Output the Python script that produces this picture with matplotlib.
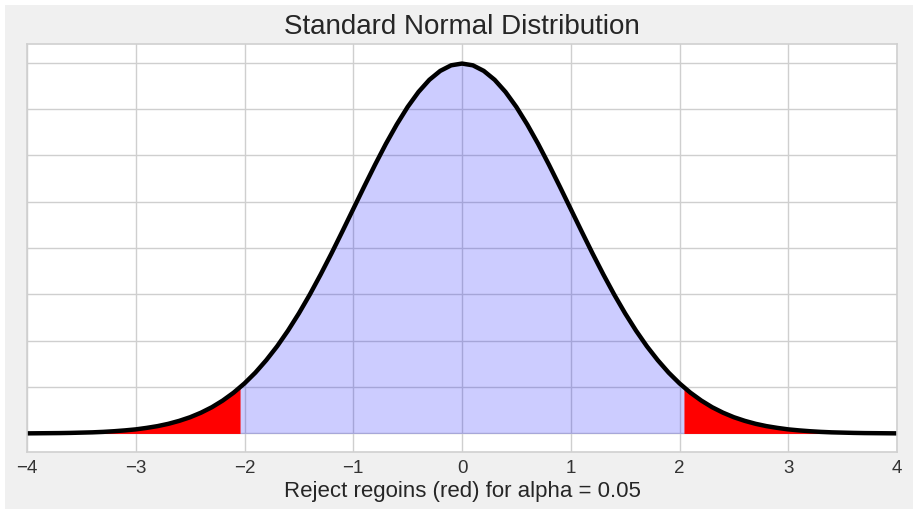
import matplotlib.pyplot as plt

plt.rcParams['font.family'] = ['Liberation Sans', 'DejaVu Sans']

# fill grid: z values (50 evenly spaced points from -4 to 4) and density
z = [-4.000, -3.837, -3.673, -3.510, -3.347, -3.184, -3.020, -2.857, -2.694, -2.531,
     -2.367, -2.204, -2.041, -1.878, -1.714, -1.551, -1.388, -1.224, -1.061, -0.898,
     -0.735, -0.571, -0.408, -0.245, -0.082, 0.082, 0.245, 0.408, 0.571, 0.735,
     0.898, 1.061, 1.224, 1.388, 1.551, 1.714, 1.878, 2.041, 2.204, 2.367,
     2.531, 2.694, 2.857, 3.020, 3.184, 3.347, 3.510, 3.673, 3.837, 4.000]
density = [0.0001, 0.0003, 0.0005, 0.0008, 0.0015, 0.0025, 0.0042, 0.0067, 0.0106, 0.0162,
           0.0242, 0.0352, 0.0497, 0.0684, 0.0918, 0.1198, 0.1523, 0.1887, 0.2272, 0.2666,
           0.3046, 0.3389, 0.3671, 0.3872, 0.3976, 0.3976, 0.3872, 0.3671, 0.3389, 0.3046,
           0.2666, 0.2272, 0.1887, 0.1523, 0.1198, 0.0918, 0.0684, 0.0497, 0.0352, 0.0242,
           0.0162, 0.0106, 0.0067, 0.0042, 0.0025, 0.0015, 0.0008, 0.0005, 0.0003, 0.0001]

# curve: denser readings, every 0.1 from -4 to 4
curve_z = [-4.0, -3.9, -3.8, -3.7, -3.6, -3.5, -3.4, -3.3, -3.2, -3.1,
           -3.0, -2.9, -2.8, -2.7, -2.6, -2.5, -2.4, -2.3, -2.2, -2.1,
           -2.0, -1.9, -1.8, -1.7, -1.6, -1.5, -1.4, -1.3, -1.2, -1.1,
           -1.0, -0.9, -0.8, -0.7, -0.6, -0.5, -0.4, -0.3, -0.2, -0.1,
           0.0, 0.1, 0.2, 0.3, 0.4, 0.5, 0.6, 0.7, 0.8, 0.9,
           1.0, 1.1, 1.2, 1.3, 1.4, 1.5, 1.6, 1.7, 1.8, 1.9,
           2.0, 2.1, 2.2, 2.3, 2.4, 2.5, 2.6, 2.7, 2.8, 2.9,
           3.0, 3.1, 3.2, 3.3, 3.4, 3.5, 3.6, 3.7, 3.8, 3.9, 4.0]
curve_density = [0.0001, 0.0002, 0.0003, 0.0004, 0.0006, 0.0009, 0.0012, 0.0017, 0.0024, 0.0033,
                 0.0044, 0.0060, 0.0079, 0.0104, 0.0136, 0.0175, 0.0224, 0.0283, 0.0355, 0.0440,
                 0.0540, 0.0656, 0.0790, 0.0940, 0.1109, 0.1295, 0.1497, 0.1714, 0.1942, 0.2179,
                 0.2420, 0.2661, 0.2897, 0.3123, 0.3332, 0.3521, 0.3683, 0.3814, 0.3910, 0.3970,
                 0.3989, 0.3970, 0.3910, 0.3814, 0.3683, 0.3521, 0.3332, 0.3123, 0.2897, 0.2661,
                 0.2420, 0.2179, 0.1942, 0.1714, 0.1497, 0.1295, 0.1109, 0.0940, 0.0790, 0.0656,
                 0.0540, 0.0440, 0.0355, 0.0283, 0.0224, 0.0175, 0.0136, 0.0104, 0.0079, 0.0060,
                 0.0044, 0.0033, 0.0024, 0.0017, 0.0012, 0.0009, 0.0006, 0.0004, 0.0003, 0.0002, 0.0001]

critical = 1.96
xticks = [-4, -3, -2, -1, 0, 1, 2, 3, 4]

fig = plt.figure(figsize=(9.13, 5.09), dpi=100, facecolor='white')
# grey panel behind everything, leaving a thin white edge top and left
bg = fig.add_axes([5 / 913, 0, 1 - 5 / 913, 1 - 5 / 509], zorder=-10)
bg.set_axis_off()
bg.add_artist(plt.Rectangle((0, 0), 1, 1, transform=bg.transAxes, color='#f0f0f0'))

ax = fig.add_axes([27 / 913, 1 - 452 / 509, 870 / 913, 408 / 509])
ax.set_facecolor('white')

ax.fill_between(z, density, color='blue', alpha=0.2, linewidth=0)
left = [zi <= -critical for zi in z]
right = [zi >= critical for zi in z]
ax.fill_between(z, density, where=left, color='red', linewidth=0)
ax.fill_between(z, density, where=right, color='red', linewidth=0)
ax.plot(curve_z, curve_density, color='black', linewidth=3.2, solid_capstyle='butt')

ax.set_xlim(-4, 4)
ax.set_ylim(-0.02, 0.42)
ax.set_xticks(xticks)
ax.set_xticklabels(['\u2212' + str(-t) if t < 0 else str(t) for t in xticks])
ax.set_yticks([0.0, 0.05, 0.10, 0.15, 0.20, 0.25, 0.30, 0.35, 0.40])
ax.set_yticklabels([])
ax.grid(True, color='#cfcfcf', linewidth=1)
ax.set_axisbelow(True)
ax.tick_params(length=0, labelsize=13.5, colors='#333333', pad=6)
for s in ax.spines.values():
    s.set_color('#d0d0d0')
    s.set_linewidth(1.2)

ax.set_title('Standard Normal Distribution', fontsize=20, color='#262626', pad=7)
ax.set_xlabel('Reject regoins (red) for alpha = 0.05', fontsize=16, color='#262626', labelpad=3)

plt.savefig('out.png', dpi=100, facecolor=fig.get_facecolor())
